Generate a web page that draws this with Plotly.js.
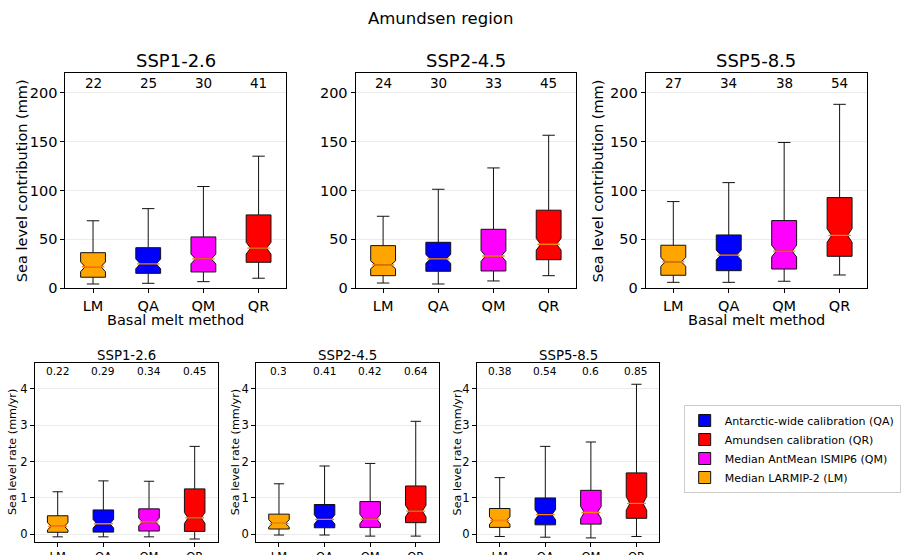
<!DOCTYPE html>
<html><head><meta charset="utf-8">
<script src="https://cdn.plot.ly/plotly-3.0.1.min.js"></script>
<style>html,body{margin:0;padding:0;background:#fff}#chart{width:901px;height:555px}</style>
</head><body><div id="chart"></div>
<script>
const methods = ['LM', 'QA', 'QM', 'QR'];
const methodLabels = ['Median LARMIP-2 (LM)', 'Antarctic-wide calibration (QA)', 'Median AntMean ISMIP6 (QM)', 'Amundsen calibration (QR)'];
const methodColors = ['#ffa500', '#0000ff', '#ff00ff', '#ff0000'];
const legendRanks = [4, 1, 3, 2];
const scenarios = ['SSP1-2.6', 'SSP2-4.5', 'SSP5-8.5'];

// Sea level contribution (mm), per scenario, per method [LM, QA, QM, QR]
const slcLow   = [[4.4, 5.1, 6.8, 10.3], [5.4, 4.4, 7.5, 12.9], [6.1, 6.1, 7.2, 13.6]];
const slcQ1    = [[11.3, 15.3, 16.7, 26.6], [12.9, 17.4, 17.7, 29.2], [13.3, 18, 19.7, 32.7]];
const slcMed   = [[22, 25, 30, 41], [24, 30, 33, 45], [27, 34, 38, 54]];
const slcQ3    = [[36.4, 41.5, 52.5, 75], [43.6, 47, 60.3, 79.8], [44, 54.5, 69.2, 92.7]];
const slcHigh  = [[69, 81.4, 104, 135], [73.6, 101.2, 123, 156.4], [88.6, 108, 149, 188]];
const slcNotch = [[5, 5, 5, 6], [4, 4.5, 5.5, 6], [4.5, 5, 6, 7]];

// Sea level rate (mm/yr)
const rateLow   = [[-0.07, -0.07, -0.07, -0.13], [-0.02, -0.02, -0.05, -0.05], [-0.06, -0.08, -0.10, -0.06]];
const rateQ1    = [[0.055, 0.06, 0.09, 0.08], [0.145, 0.18, 0.19, 0.32], [0.19, 0.26, 0.28, 0.44]];
const rateMed   = [[0.22, 0.29, 0.34, 0.45], [0.3, 0.41, 0.42, 0.64], [0.38, 0.54, 0.6, 0.85]];
const rateQ3    = [[0.51, 0.67, 0.70, 1.25], [0.555, 0.82, 0.90, 1.33], [0.71, 1.0, 1.21, 1.69]];
const rateHigh  = [[1.17, 1.47, 1.46, 2.42], [1.39, 1.88, 1.95, 3.11], [1.56, 2.42, 2.54, 4.13]];
const rateNotch = [[0.1, 0.12, 0.11, 0.15], [0.1, 0.13, 0.13, 0.16], [0.1, 0.14, 0.17, 0.19]];

const FONT = 'DejaVu Sans';
const W = 901, H = 555;
const topX = [[67, 293], [364, 590], [661, 888]];
const topY = [73, 288.3];
const botX = [[35.7, 222.7], [262.3, 449], [488.3, 675]];
const botY = [363, 541.7];

const traces = [];
const layout = {
  width: W, height: H,
  margin: {l: 0, r: 0, t: 0, b: 0},
  paper_bgcolor: '#fff', plot_bgcolor: '#fff',
  boxmode: 'overlay',
  showlegend: true,
  hovermode: false,
  font: {family: FONT, color: '#000'},
  legend: {
    x: 700 / W, y: 1 - 405 / H, xanchor: 'left', yanchor: 'top',
    bordercolor: '#cccccc', borderwidth: 1, bgcolor: '#fff',
    font: {family: FONT, size: 11, color: '#000'},
    traceorder: 'normal', itemwidth: 30, tracegroupgap: 0
  },
  annotations: [
    {text: 'Amundsen region', xref: 'paper', yref: 'paper', x: 0.5, y: 1 - 18 / H,
     showarrow: false, font: {family: FONT, size: 16.5, color: '#000'}, xanchor: 'center', yanchor: 'middle'}
  ]
};

function addPanel(idx, xs, ys, low, q1, med, q3, high, notch, opts) {
  const ax = idx === 0 ? '' : String(idx + 1);
  const xa = 'x' + ax, ya = 'y' + ax;
  for (let m = 0; m < methods.length; m++) {
    traces.push({
      type: 'box', xaxis: xa, yaxis: ya,
      x: [methods[m]], q1: [q1[m]], median: [med[m]], q3: [q3[m]],
      lowerfence: [low[m]], upperfence: [high[m]], notchspan: [notch[m]],
      notched: true, notchwidth: 0.18, width: 0.45, whiskerwidth: 0.5,
      boxpoints: false,
      fillcolor: methodColors[m],
      line: {color: '#111', width: 1},
      name: methodLabels[m], legendgroup: methods[m], legendrank: legendRanks[m],
      showlegend: idx === 0
    });
  }
  traces.push({
    type: 'scatter', mode: 'markers', xaxis: xa, yaxis: ya,
    x: methods, y: med, showlegend: false,
    marker: {symbol: 'line-ew', size: opts.medSize, color: '#ff7f0e', line: {color: '#ff7f0e', width: 1.3}}
  });
  const xaxis = {
    domain: [xs[0] / W, xs[1] / W], anchor: ya,
    type: 'category', categoryorder: 'array', categoryarray: methods, range: [-0.5, 3.5],
    showline: true, mirror: true, linecolor: '#000', linewidth: 1,
    ticks: 'outside', ticklen: 4, tickcolor: '#000', showgrid: false, zeroline: false,
    tickfont: {family: FONT, size: opts.tickSize, color: '#000'}, automargin: false
  };
  const yaxis = {
    domain: [1 - ys[1] / H, 1 - ys[0] / H], anchor: xa,
    range: opts.yrange, dtick: opts.dtick, tick0: 0,
    showline: true, mirror: true, linecolor: '#000', linewidth: 1,
    ticks: 'outside', ticklen: 4, tickcolor: '#000',
    showgrid: true, gridcolor: '#ebebeb', gridwidth: 1, zeroline: false,
    tickfont: {family: FONT, size: opts.tickSize, color: '#000'}, automargin: false
  };
  layout['xaxis' + ax] = xaxis;
  layout['yaxis' + ax] = yaxis;
  if (opts.xtitle) {
    layout.annotations.push({
      text: opts.xtitle, xref: 'paper', yref: 'paper', x: (xs[0] + xs[1]) / 2 / W, y: 1 - opts.xtitleY / H,
      showarrow: false, xanchor: 'center', yanchor: 'middle', font: {family: FONT, size: opts.titleSize, color: '#000'}
    });
  }
  if (opts.ytitle) {
    layout.annotations.push({
      text: opts.ytitle, xref: 'paper', yref: 'paper', x: opts.ytitleX / W, y: 1 - (ys[0] + ys[1]) / 2 / H,
      textangle: -90, showarrow: false, xanchor: 'center', yanchor: 'middle',
      font: {family: FONT, size: opts.ytitleSize, color: '#000'}
    });
  }
  layout.annotations.push({
    text: opts.title, xref: 'paper', yref: 'paper', x: (xs[0] + xs[1]) / 2 / W, y: 1 - opts.titleY / H,
    showarrow: false, xanchor: 'center', yanchor: 'middle', font: {family: FONT, size: opts.panelTitleSize, color: '#000'}
  });
  for (let m = 0; m < methods.length; m++) {
    layout.annotations.push({
      text: String(med[m]), xref: xa, yref: 'paper', x: methods[m], y: 1 - opts.labelY / H,
      showarrow: false, xanchor: 'center', yanchor: 'middle', font: {family: FONT, size: opts.labelSize, color: '#000'}
    });
  }
}

const topTitleX = [22, null, 612];
for (let s = 0; s < 3; s++) {
  addPanel(s, topX[s], topY, slcLow[s], slcQ1[s], slcMed[s], slcQ3[s], slcHigh[s], slcNotch[s], {
    medSize: 16, tickSize: 14.5, titleSize: 14.5, ytitleSize: 14.5,
    xtitle: s === 1 ? null : 'Basal melt method', xtitleY: 320,
    ytitle: s === 1 ? null : 'Sea level contribution (mm)', ytitleX: topTitleX[s],
    yrange: [0, 220], dtick: 50,
    title: scenarios[s], titleY: 60, panelTitleSize: 18,
    labelY: 83, labelSize: 13.5
  });
}
const botTitleX = [13, 240.5, 468];
for (let s = 0; s < 3; s++) {
  addPanel(s + 3, botX[s], botY, rateLow[s], rateQ1[s], rateMed[s], rateQ3[s], rateHigh[s], rateNotch[s], {
    medSize: 13.5, tickSize: 11.5, titleSize: 11.5, ytitleSize: 11.2,
    xtitle: null, ytitle: 'Sea level rate (mm/yr)', ytitleX: botTitleX[s],
    yrange: [-0.204, 4.715], dtick: 1,
    title: scenarios[s], titleY: 355, panelTitleSize: 13.3,
    labelY: 371, labelSize: 10.6
  });
}

Plotly.newPlot('chart', traces, layout, {displayModeBar: false, staticPlot: true});
</script>
</body></html>
